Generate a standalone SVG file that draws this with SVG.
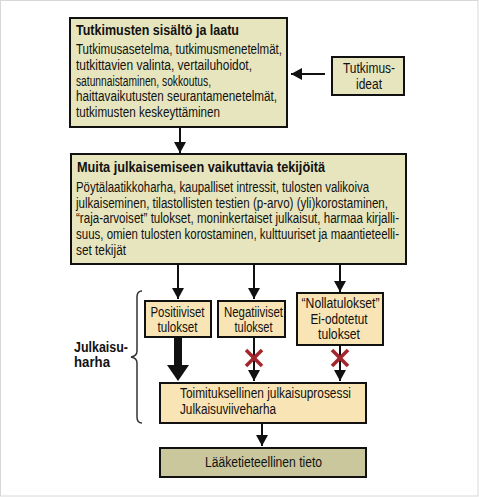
<svg xmlns="http://www.w3.org/2000/svg" width="479" height="497" viewBox="0 0 479 497">
<style>
text{font-family:"Liberation Sans Narrow","Liberation Sans",Arial,sans-serif;fill:#111;font-size:14px}
.b{font-weight:bold;font-size:14.5px}
.m{text-anchor:middle}
.khaki{fill:#e7e5bd;stroke:#111;stroke-width:2}
.peach{fill:#f8e4b4;stroke:#111;stroke-width:2}
.olive{fill:#c9c79b;stroke:#111;stroke-width:2}
.ln{stroke:#111;stroke-width:2;fill:none}
.x{stroke:#a3262d;stroke-width:3.5;stroke-linecap:butt}
</style>
<defs>
<marker id="ah" markerUnits="userSpaceOnUse" markerWidth="12" markerHeight="12" refX="11" refY="6" orient="auto">
<path d="M0,0 L11,6 L0,12 z" fill="#111"/>
</marker>
</defs>
<rect x="0.5" y="0.5" width="477.5" height="495.5" fill="#fff" stroke="#d8d8d8" stroke-width="1"/>

<g id="connectors">
<line class="ln" x1="325" y1="74" x2="291" y2="74" marker-end="url(#ah)"/>
<line class="ln" x1="180" y1="127" x2="180" y2="153" marker-end="url(#ah)"/>
<line class="ln" x1="178" y1="264" x2="178" y2="299" marker-end="url(#ah)"/>
<line class="ln" x1="254" y1="264" x2="254" y2="299" marker-end="url(#ah)"/>
<line class="ln" x1="340" y1="264" x2="340" y2="292" marker-end="url(#ah)"/>
<polygon points="174,337 182,337 182,365 189,365 178,381 167,365 174,365" fill="#111"/>
<line class="ln" x1="254" y1="337" x2="254" y2="381" marker-end="url(#ah)"/>
<line class="ln" x1="340" y1="345" x2="340" y2="381" marker-end="url(#ah)"/>
<line class="ln" x1="262" y1="423" x2="262" y2="446" marker-end="url(#ah)"/>
<line class="x" x1="246" y1="350" x2="262" y2="366"/>
<line class="x" x1="262" y1="350" x2="246" y2="366"/>
<line class="x" x1="332" y1="350" x2="348" y2="366"/>
<line class="x" x1="348" y1="350" x2="332" y2="366"/>
</g>

<g id="brace">
<path d="M142,291 Q137,291 137,297 L137,351 Q137,356 131,357 Q137,358 137,363 L137,417 Q137,423 142,423" fill="none" stroke="#333" stroke-width="1.5"/>
<text class="b" x="74" y="352" textLength="54" lengthAdjust="spacingAndGlyphs">Julkaisu-</text>
<text class="b" x="74" y="367" textLength="36" lengthAdjust="spacingAndGlyphs">harha</text>
</g>

<g id="sisalto">
<rect class="khaki" x="70" y="18" width="217" height="109"/>
<text class="b" x="76" y="35" textLength="163" lengthAdjust="spacingAndGlyphs">Tutkimusten sisältö ja laatu</text>
<text x="76" y="54" textLength="206" lengthAdjust="spacingAndGlyphs">Tutkimusasetelma, tutkimusmenetelmät,</text>
<text x="76" y="70" textLength="176" lengthAdjust="spacingAndGlyphs">tutkittavien valinta, vertailuhoidot,</text>
<text x="76" y="85.5" textLength="135" lengthAdjust="spacingAndGlyphs">satunnaistaminen, sokkoutus,</text>
<text x="76" y="101" textLength="201" lengthAdjust="spacingAndGlyphs">haittavaikutusten seurantamenetelmät,</text>
<text x="76" y="117" textLength="144" lengthAdjust="spacingAndGlyphs">tutkimusten keskeyttäminen</text>
</g>

<g id="ideat">
<rect class="khaki" x="332" y="57" width="72" height="38"/>
<text class="m" x="369" y="73" textLength="52" lengthAdjust="spacingAndGlyphs">Tutkimus-</text>
<text class="m" x="369" y="89" textLength="26" lengthAdjust="spacingAndGlyphs">ideat</text>
</g>

<g id="muita">
<rect class="khaki" x="71" y="154" width="335" height="110"/>
<text class="b" x="77" y="172" textLength="248" lengthAdjust="spacingAndGlyphs">Muita julkaisemiseen vaikuttavia tekijöitä</text>
<text x="76" y="192" textLength="293" lengthAdjust="spacingAndGlyphs">Pöytälaatikkoharha, kaupalliset intressit, tulosten valikoiva</text>
<text x="76" y="207.5" textLength="312" lengthAdjust="spacingAndGlyphs">julkaiseminen, tilastollisten testien (p-arvo) (yli)korostaminen,</text>
<text x="76" y="223" textLength="323" lengthAdjust="spacingAndGlyphs">“raja-arvoiset” tulokset, moninkertaiset julkaisut, harmaa kirjalli-</text>
<text x="76" y="238.5" textLength="323" lengthAdjust="spacingAndGlyphs">suus, omien tulosten korostaminen, kulttuuriset ja maantieteelli-</text>
<text x="76" y="254.5" textLength="50" lengthAdjust="spacingAndGlyphs">set tekijät</text>
</g>

<g id="positiiviset">
<rect class="peach" x="145" y="301" width="66" height="36"/>
<text class="m" x="177.5" y="317" textLength="54" lengthAdjust="spacingAndGlyphs">Positiiviset</text>
<text class="m" x="177.5" y="332" textLength="40" lengthAdjust="spacingAndGlyphs">tulokset</text>
</g>

<g id="negatiiviset">
<rect class="peach" x="218" y="301" width="67" height="36"/>
<text class="m" x="253.5" y="317" textLength="59" lengthAdjust="spacingAndGlyphs">Negatiiviset</text>
<text class="m" x="253.5" y="332" textLength="38" lengthAdjust="spacingAndGlyphs">tulokset</text>
</g>

<g id="nollatulokset">
<rect class="peach" x="297" y="293" width="86" height="52"/>
<text class="m" x="340.5" y="308" textLength="78" lengthAdjust="spacingAndGlyphs">“Nollatulokset”</text>
<text class="m" x="339" y="323.5" textLength="57" lengthAdjust="spacingAndGlyphs">Ei-odotetut</text>
<text class="m" x="339" y="339" textLength="42" lengthAdjust="spacingAndGlyphs">tulokset</text>
</g>

<g id="toimituksellinen">
<rect class="peach" x="160" y="383" width="206" height="40"/>
<text x="180" y="398" textLength="171" lengthAdjust="spacingAndGlyphs">Toimituksellinen julkaisuprosessi</text>
<text x="180" y="414" textLength="96" lengthAdjust="spacingAndGlyphs">Julkaisuviiveharha</text>
</g>

<g id="laaketieteellinen">
<rect class="olive" x="160" y="448" width="206" height="29"/>
<text class="m" x="263.5" y="467" textLength="117" lengthAdjust="spacingAndGlyphs">Lääketieteellinen tieto</text>
</g>
</svg>
